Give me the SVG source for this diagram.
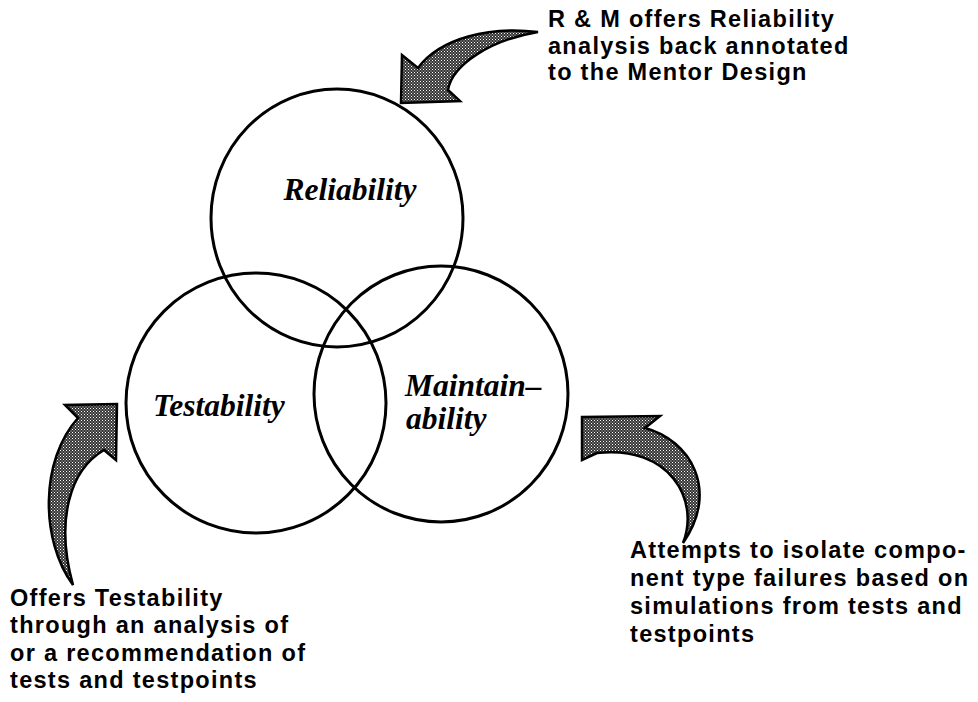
<svg xmlns="http://www.w3.org/2000/svg" width="978" height="702" viewBox="0 0 978 702">
<style>
.circ{fill:none;stroke:#000;stroke-width:3}
.lbl{font-family:"Liberation Serif",serif;font-style:italic;font-weight:bold;font-size:31.5px;fill:#000}
.note{font-family:"Liberation Sans",Arial,sans-serif;font-weight:bold;font-size:23.5px;letter-spacing:1.3px;fill:#000}
.arrow{fill:url(#dots);stroke:#000;stroke-width:2.5;stroke-linejoin:miter}
</style>
<defs>
<pattern id="dots" width="3" height="3" patternUnits="userSpaceOnUse">
<rect width="3" height="3" fill="#333"/>
<rect x="0" y="0" width="1" height="1" fill="#fff"/>
<rect x="1.5" y="1.5" width="1" height="1" fill="#ddd"/>
</pattern>
</defs>
<rect width="978" height="702" fill="#fff"/>
<g id="reliability">
<ellipse class="circ" cx="337" cy="218" rx="126" ry="129"/>
<text class="lbl" x="350" y="200" text-anchor="middle">Reliability</text>
</g>
<g id="testability">
<ellipse class="circ" cx="256" cy="403" rx="130" ry="130"/>
<text class="lbl" x="153" y="416">Testability</text>
</g>
<g id="maintainability">
<ellipse class="circ" cx="441" cy="394" rx="127" ry="128"/>
<text class="lbl" x="405" y="396">Maintain–</text>
<text class="lbl" x="406" y="429">ability</text>
</g>
<g id="connectors">
<path class="arrow" d="M538,32 C490,26 440,38 418,68 L402,55 L401,103 L460,101 L448,90 C452,65 490,40 538,32 Z"/>
<path class="arrow" d="M73,585 C40,540 40,460 78,418 L65,405 L117,404 L116,460 L104,450 C70,470 55,520 73,585 Z"/>
<path class="arrow" d="M582,417 L660,416 L645,428 C690,440 720,490 683,543 C700,500 670,445 597,453 L582,460 Z"/>
</g>
<g id="note-top">
<text class="note" x="548" y="27">R &amp; M offers Reliability</text>
<text class="note" x="548" y="53.5">analysis back annotated</text>
<text class="note" x="548" y="80">to the Mentor Design</text>
</g>
<g id="note-left">
<text class="note" x="10" y="606">Offers Testability</text>
<text class="note" x="10" y="633">through an analysis of</text>
<text class="note" x="10" y="661">or a recommendation of</text>
<text class="note" x="10" y="688">tests and testpoints</text>
</g>
<g id="note-right">
<text class="note" x="630" y="558">Attempts to isolate compo-</text>
<text class="note" x="630" y="586">nent type failures based on</text>
<text class="note" x="630" y="614">simulations from tests and</text>
<text class="note" x="630" y="642">testpoints</text>
</g>
</svg>
